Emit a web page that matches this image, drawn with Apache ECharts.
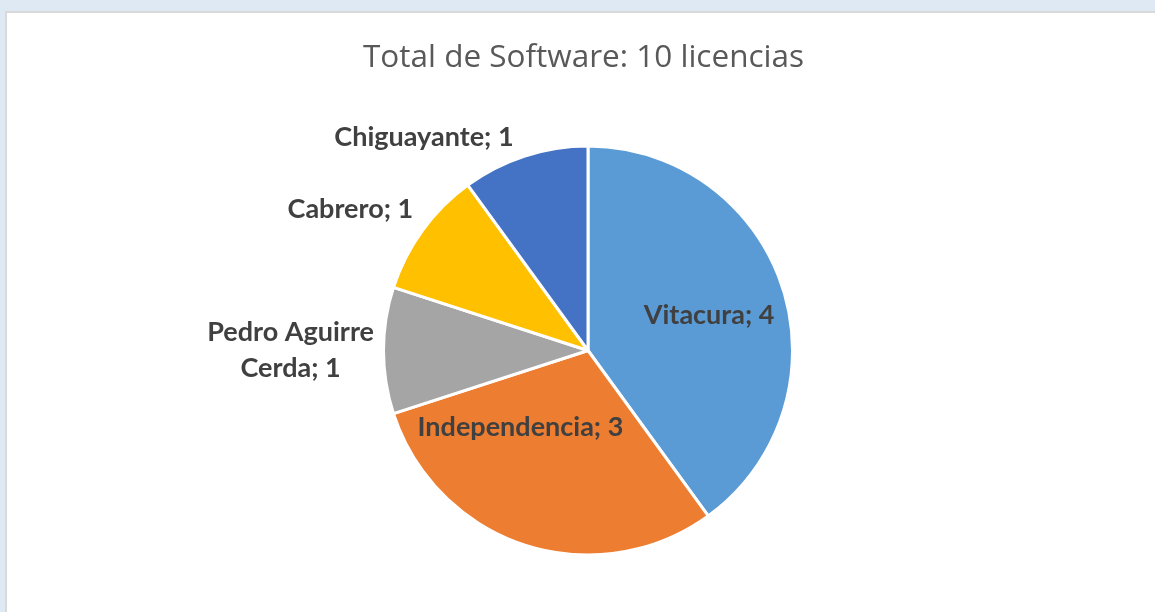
<!DOCTYPE html>
<html>
<head>
<meta charset="utf-8">
<script src="https://cdn.jsdelivr.net/npm/echarts@6/dist/echarts.min.js"></script>
<style>
  html, body { margin: 0; padding: 0; width: 1155px; height: 612px; overflow: hidden; background: #dee9f4; }
  #marco { position: absolute; left: 5px; top: 11px; right: 0; bottom: 0; background: #fff;
           border-left: 2px solid #d9d9d9; border-top: 2px solid #d9d9d9; }
  #main { position: absolute; left: 12px; top: 12px; width: 1143px; height: 600px; }
</style>
</head>
<body>
<div id="marco"></div>
<div id="main"></div>
<script>
// datos del grafico (licencias por comuna)
var comunas = ['Vitacura', 'Independencia', 'Pedro Aguirre Cerda', 'Cabrero', 'Chiguayante'];
var licencias = [4, 3, 1, 1, 1];
var colores = ['#5b9bd5', '#ed7d31', '#a5a5a5', '#ffc000', '#4472c4'];
var titulo = 'Total de Software: 10 licencias';

// donde va cada etiqueta: dentro o fuera, largo de la linea (oculta) y ajuste fino
var posEtiqueta = ['inside', 'inside', 'outside', 'outside', 'outside'];
var largoLinea = [[0, 0], [0, 0], [4.5, 0], [35, -24], [20, 0]];
var ajuste = [[21, -3], [-35, -23], [0, 0], [0, 0], [0, 0]];

var myChart = echarts.init(document.getElementById('main'));

var datos = [];
for (var i = 0; i < comunas.length; i++) {
	datos.push({
		name: comunas[i],
		value: licencias[i],
		itemStyle: { color: colores[i] },
		label: { position: posEtiqueta[i] },
		labelLine: { show: false, length: largoLinea[i][0], length2: largoLinea[i][1] }
	});
}

myChart.setOption({
	animation: false,
	title: {
		text: titulo,
		left: 'center',
		top: 25,
		textStyle: { color: '#595959', fontSize: 31.5, fontWeight: 'normal', fontFamily: 'Open Sans' }
	},
	series: [{
		type: 'pie',
		center: [576, 338.5],
		radius: 204.5,
		startAngle: 90,
		clockwise: true,
		avoidLabelOverlap: false,
		silent: true,
		itemStyle: { borderColor: '#fff', borderWidth: 3 },
		label: {
			color: '#404040',
			fontSize: 27,
			fontWeight: 'bold',
			fontFamily: 'Lato',
			distanceToLabelLine: 5,
			formatter: function(p) {
				var txt = p.name + '; ' + p.value;
				// nombres largos en dos lineas, como en el original
				if (p.name.length > 15) {
					var k = p.name.lastIndexOf(' ');
					txt = p.name.substring(0, k) + '\n' + p.name.substring(k + 1) + '; ' + p.value;
				}
				return txt.split('\n').map(function(l) { return '{a|' + l + '}'; }).join('\n');
			},
			rich: {
				a: { align: 'center', color: '#404040', fontSize: 27, fontWeight: 'bold', fontFamily: 'Lato', lineHeight: 36 }
			}
		},
		labelLayout: function(params) {
			var s = ajuste[params.dataIndex];
			return { dx: s[0], dy: s[1] };
		},
		data: datos
	}]
});
</script>
</body>
</html>
